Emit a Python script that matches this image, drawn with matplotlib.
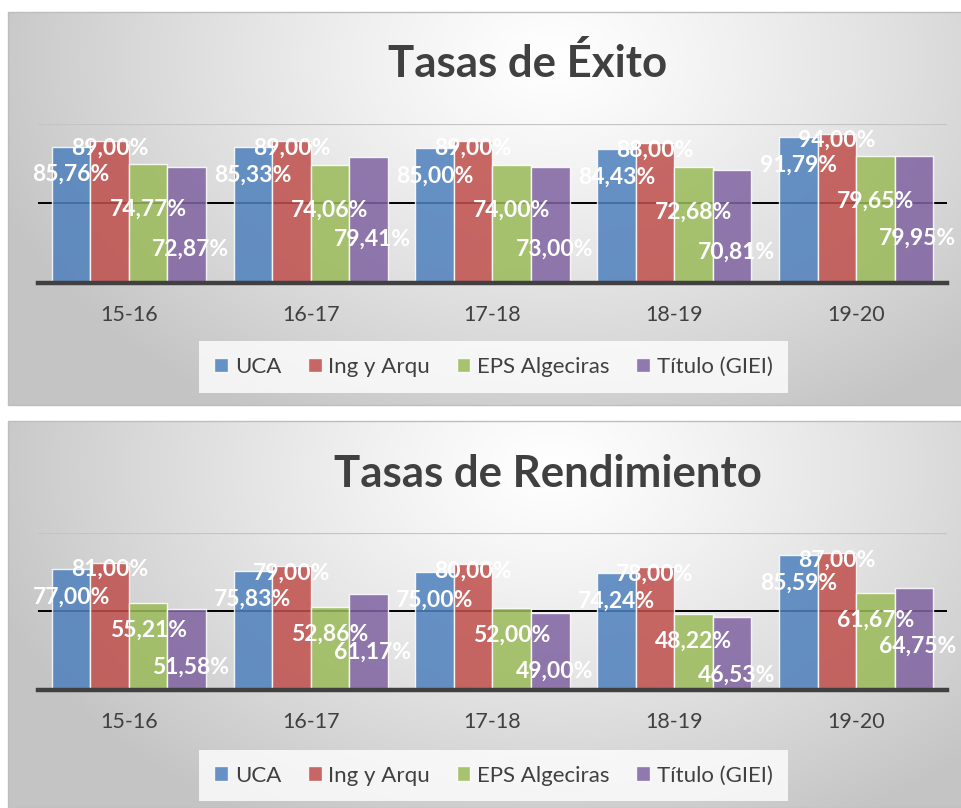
import numpy as np
import matplotlib
matplotlib.use("Agg")
import matplotlib.pyplot as plt
from matplotlib.patches import Rectangle, Patch

# ---------------- data ----------------
categories = ["15-16", "16-17", "17-18", "18-19", "19-20"]
series_names = ["UCA", "Ing y Arqu", "EPS Algeciras", "Título (GIEI)"]

exito_uca = [85.76, 85.33, 85.00, 84.43, 91.79]
exito_ing = [89.00, 89.00, 89.00, 88.00, 94.00]
exito_eps = [74.77, 74.06, 74.00, 72.68, 79.65]
exito_giei = [72.87, 79.41, 73.00, 70.81, 79.95]

rend_uca = [77.00, 75.83, 75.00, 74.24, 85.59]
rend_ing = [81.00, 79.00, 80.00, 78.00, 87.00]
rend_eps = [55.21, 52.86, 52.00, 48.22, 61.67]
rend_giei = [51.58, 61.17, 49.00, 46.53, 64.75]

titles = ["Tasas de Éxito", "Tasas de Rendimiento"]

# ---------------- style ----------------
colors = ["#4F81BD", "#C0504D", "#9BBB59", "#8064A2"]
FONT = ["Lato", "DejaVu Sans"]
plt.rcParams["font.family"] = FONT

W, H = 962, 808
fig = plt.figure(figsize=(W / 100, H / 100), dpi=100)
fig.patch.set_facecolor("white")


def fx(px):
    return px / W


def fy(py):
    return 1 - py / H


def panel_background(top, bottom):
    left, right = 8, 962
    ax = fig.add_axes([fx(left), fy(bottom), fx(right - left), (bottom - top) / H], zorder=0)
    nx, ny = 400, 200
    xs = np.linspace(0, 1, nx)
    ys = np.linspace(0, 1, ny)
    X, Y = np.meshgrid(xs, ys)
    cx, cy = 0.57, 0.12
    d = np.sqrt(((X - cx) / 0.62) ** 2 + ((Y - cy) / 1.05) ** 2)
    d = np.clip(d, 0, 1)
    v = 1.0 - (1.0 - 0.77) * d ** 1.2
    img = np.dstack([v, v, v])
    ax.imshow(img, extent=[0, 1, 1, 0], aspect="auto", interpolation="bilinear")
    ax.set_xlim(0, 1)
    ax.set_ylim(1, 0)
    ax.axis("off")
    fig.add_artist(Rectangle((fx(left), fy(bottom)), fx(right - left), (bottom - top) / H,
                             transform=fig.transFigure, fill=False,
                             edgecolor="#bdbdbd", lw=1.0, zorder=1))


def panel(top, bottom, ax_top, ax_bottom, title, title_cx, title_base,
          values, label_drop, tick_pad, legend_cy):
    panel_background(top, bottom)
    ax = fig.add_axes([fx(38), fy(ax_bottom), fx(947 - 38), (ax_bottom - ax_top) / H], zorder=2)
    ax.patch.set_alpha(0)
    x = np.arange(len(categories))
    bw = 0.212
    offs = [-1.5, -0.5, 0.5, 1.5]
    ax.axhline(100, color="#c4c4c4", lw=1.6, zorder=0)
    ax.axhline(50, color="black", lw=1.4, zorder=0)
    for i, (vals, col) in enumerate(zip(values, colors)):
        ax.bar(x + offs[i] * bw, vals, width=bw, color=col, alpha=0.86,
               edgecolor=(1, 1, 1, 0.55), linewidth=1.0, zorder=2)
        for xi, v in zip(x, vals):
            dx = 4 if i == 3 else 0
            ax.annotate(f"{v:.2f}%".replace(".", ","), (xi + offs[i] * bw, v),
                        xytext=(dx, -label_drop[i]), textcoords="offset pixels",
                        ha="center", va="center", color="white",
                        fontsize=16.5, fontweight="bold", zorder=5,
                        annotation_clip=False)
    ax.set_xlim(-0.5, len(categories) - 0.5)
    ax.set_ylim(0, 100)
    ax.set_yticks([])
    ax.set_xticks(x)
    ax.set_xticklabels(categories, fontsize=15.5, color="#404040")
    ax.tick_params(axis="x", length=0, pad=tick_pad)
    for s in ["top", "right", "left"]:
        ax.spines[s].set_visible(False)
    ax.spines["bottom"].set_color("#404040")
    ax.spines["bottom"].set_linewidth(3.2)
    ax.spines["bottom"].set_zorder(3)

    fig.text(fx(title_cx), fy(title_base), title, ha="center", va="baseline",
             fontsize=31.5, fontweight="bold", color="#404040")

    handles = [Patch(facecolor=c, edgecolor=(1, 1, 1, 0.6), alpha=0.86) for c in colors]
    leg = fig.legend(handles, series_names, loc="center",
                     bbox_to_anchor=(fx(493.5), fy(legend_cy)), ncol=4,
                     fontsize=16, frameon=True, fancybox=False,
                     handlelength=0.62, handleheight=0.62, handletextpad=0.3,
                     columnspacing=1.2, borderpad=0.7)
    leg.get_frame().set_facecolor((1, 1, 1, 0.35))
    leg.get_frame().set_edgecolor("none")
    leg.set_zorder(4)
    for t in leg.get_texts():
        t.set_color("#404040")
    return ax


panel(12, 405, 124, 283, titles[0], 527.5, 77,
      [exito_uca, exito_ing, exito_eps, exito_giei],
      [28, 7, 45, 82], 16, 367)
panel(421, 808, 532.7, 690, titles[1], 547.5, 487,
      [rend_uca, rend_ing, rend_eps, rend_giei],
      [28, 7, 27, 58], 16, 775.5)

fig.savefig("out.png", dpi=100)
